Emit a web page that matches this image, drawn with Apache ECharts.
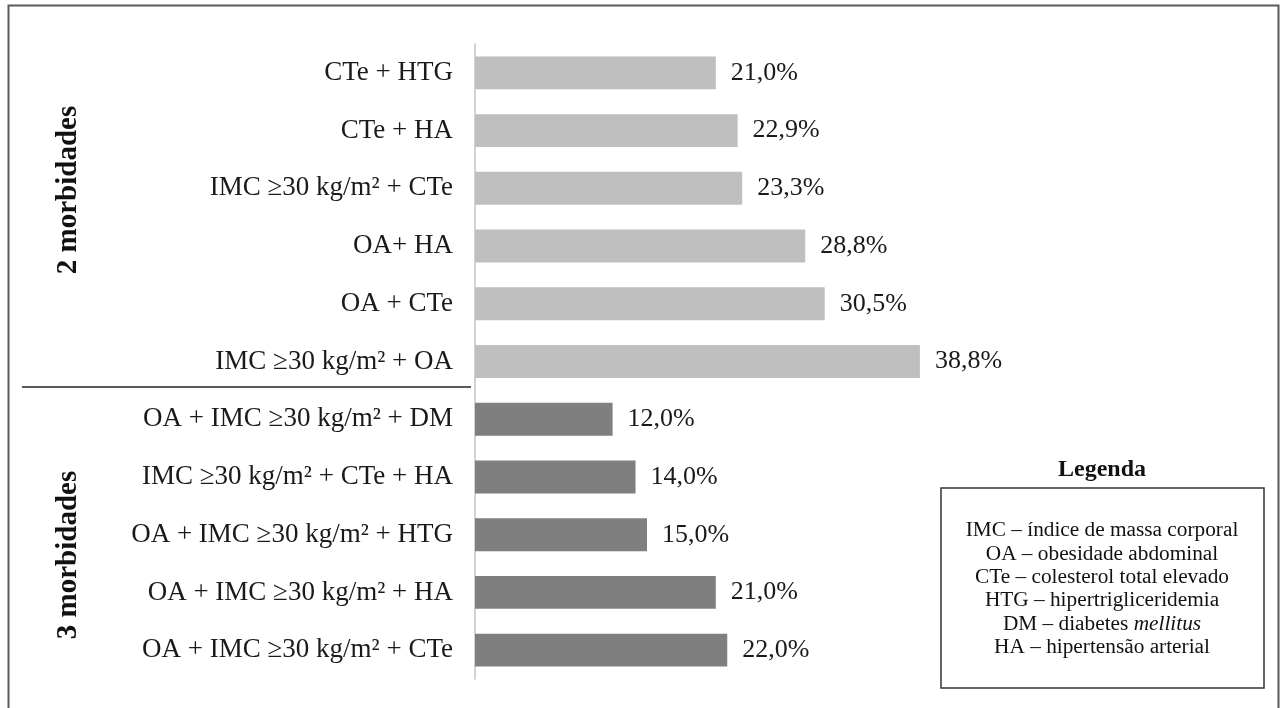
<!DOCTYPE html>
<html>
<head>
<meta charset="utf-8">
<script src="https://cdn.jsdelivr.net/npm/echarts@6/dist/echarts.min.js"></script>
<style>
html,body{margin:0;padding:0;background:#fff;}
#chart{width:1282px;height:708px;}
</style>
</head>
<body>
<div id="chart"></div>
<script>
// Data
const groupTitles = ['2 morbidades', '3 morbidades'];
const twoMorbLabels = ['CTe + HTG', 'CTe + HA', 'IMC \u226530 kg/m\u00b2 + CTe', 'OA+ HA', 'OA + CTe', 'IMC \u226530 kg/m\u00b2 + OA'];
const twoMorbValues = [21.0, 22.9, 23.3, 28.8, 30.5, 38.8];
const threeMorbLabels = ['OA + IMC \u226530 kg/m\u00b2 + DM', 'IMC \u226530 kg/m\u00b2 + CTe + HA', 'OA + IMC \u226530 kg/m\u00b2 + HTG', 'OA + IMC \u226530 kg/m\u00b2 + HA', 'OA + IMC \u226530 kg/m\u00b2 + CTe'];
const threeMorbValues = [12.0, 14.0, 15.0, 21.0, 22.0];
const legendTitle = 'Legenda';
const legendLines = [
  ['IMC \u2013 \u00edndice de massa corporal', ''],
  ['OA \u2013 obesidade abdominal', ''],
  ['CTe \u2013 colesterol total elevado', ''],
  ['HTG \u2013 hipertrigliceridemia', ''],
  ['DM \u2013 diabetes ', 'mellitus'],
  ['HA \u2013 hipertens\u00e3o arterial', '']
];

const FONT = '"Liberation Serif", "Times New Roman", serif';
const LIGHT = '#bfbfbf', DARK = '#7f7f7f';

const categories = twoMorbLabels.concat(threeMorbLabels);
const data = twoMorbValues.map(v => ({value: v, itemStyle: {color: LIGHT}}))
  .concat(threeMorbValues.map(v => ({value: v, itemStyle: {color: DARK}})));

const chart = echarts.init(document.getElementById('chart'));

const legendText = legendLines.map(l => l[1] ? '{n|' + l[0] + '}{i|' + l[1] + '}' : '{n|' + l[0] + '}').join('\n');

chart.setOption({
  animation: false,
  backgroundColor: '#fff',
  grid: {left: 475, top: 44, bottom: 29, width: 688},
  xAxis: {
    type: 'value', min: 0, max: 60, show: false
  },
  yAxis: {
    type: 'category', data: categories, inverse: true,
    axisLine: {show: true, lineStyle: {color: '#c4c4c4', width: 1.5}},
    axisTick: {show: false},
    axisLabel: {margin: 22, fontSize: 27, fontFamily: FONT, color: '#1a1a1a'}
  },
  series: [{
    type: 'bar', data: data, barCategoryGap: '43%',
    label: {
      show: true, position: 'right', distance: 15,
      fontSize: 26, fontFamily: FONT, color: '#1a1a1a',
      formatter: p => p.value.toFixed(1).replace('.', ',') + '%'
    }
  }],
  graphic: [
    {type: 'rect', shape: {x: 8.5, y: 5.5, width: 1270, height: 720},
     style: {fill: 'none', stroke: '#5a5a5a', lineWidth: 2}, silent: true},
    {type: 'line', shape: {x1: 22, y1: 387, x2: 471, y2: 387},
     style: {stroke: '#222', lineWidth: 1.5}},
    {type: 'text', x: 69, y: 190, rotation: Math.PI / 2,
     style: {text: groupTitles[0], font: 'bold 29px ' + FONT, fill: '#111', align: 'center', verticalAlign: 'middle'}},
    {type: 'text', x: 69, y: 555, rotation: Math.PI / 2,
     style: {text: groupTitles[1], font: 'bold 29px ' + FONT, fill: '#111', align: 'center', verticalAlign: 'middle'}},
    {type: 'text', x: 1102, y: 470,
     style: {text: legendTitle, font: 'bold 24px ' + FONT, fill: '#111', align: 'center', verticalAlign: 'middle'}},
    {type: 'rect', shape: {x: 941, y: 488, width: 323, height: 200},
     style: {fill: '#fff', stroke: '#333', lineWidth: 1.5}},
    {type: 'text', x: 1102, y: 589,
     style: {
       text: legendText, align: 'center', verticalAlign: 'middle',
       rich: {
         n: {fontSize: 21.3, fontFamily: FONT, fill: '#111', lineHeight: 23.4},
         i: {fontSize: 21.3, fontFamily: FONT, fontStyle: 'italic', fill: '#111', lineHeight: 23.4}
       }
     }}
  ]
});
</script>
</body>
</html>
